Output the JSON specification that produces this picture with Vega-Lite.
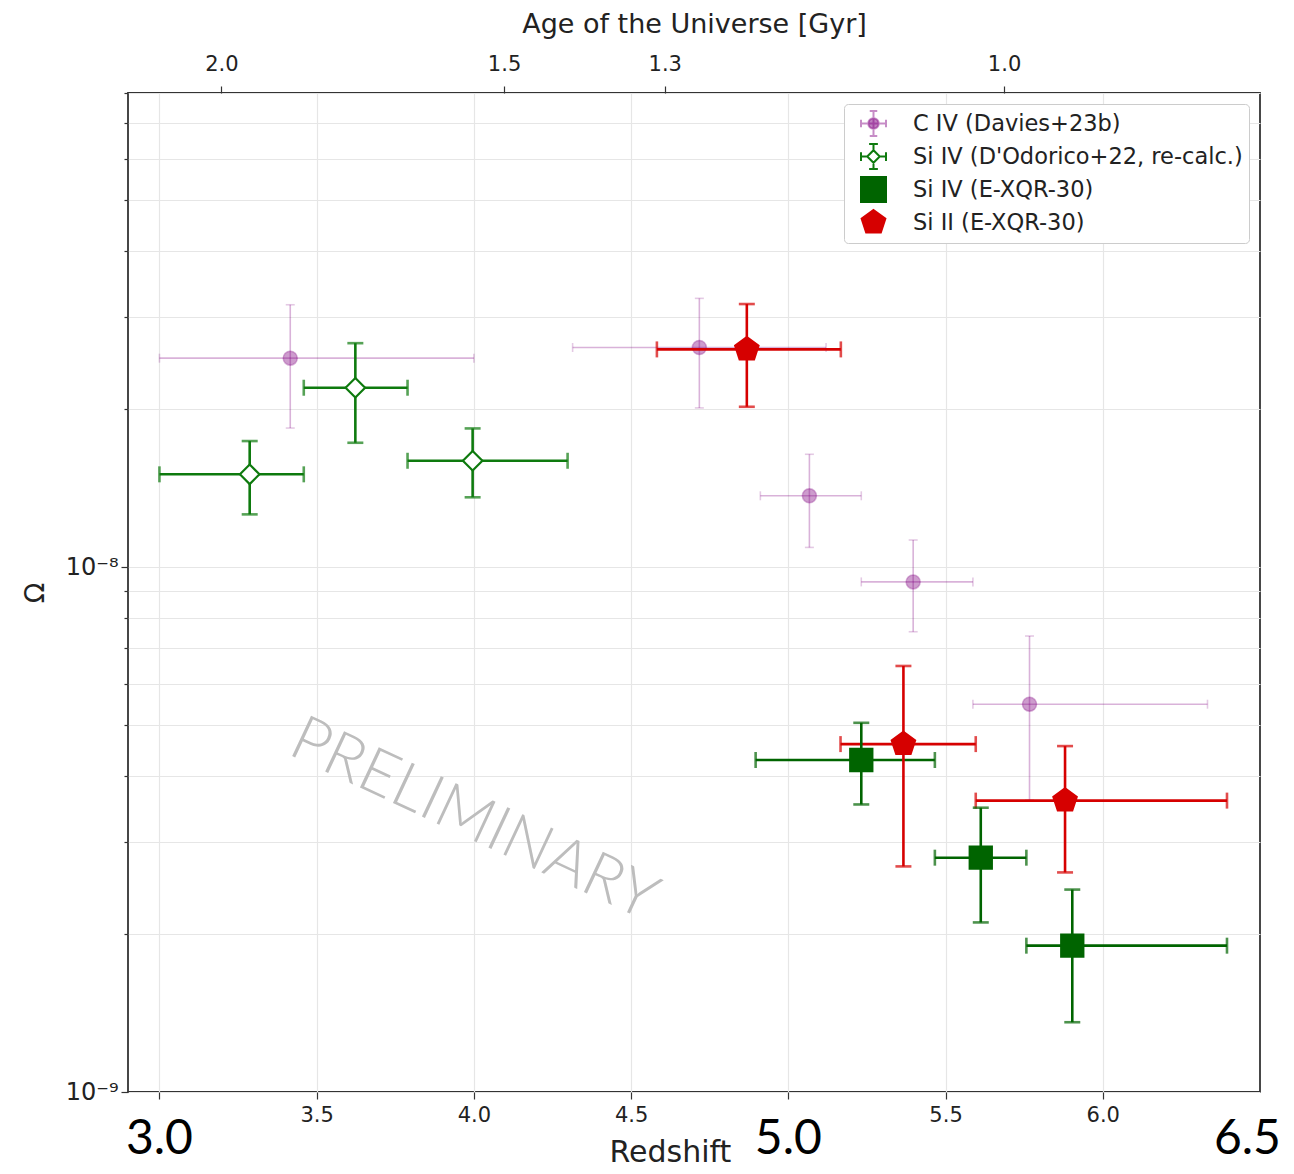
{
  "$schema": "https://vega.github.io/schema/vega-lite/v6.json",
  "autosize": {"type": "none"},
  "width": 1132,
  "height": 999,
  "padding": {"left": 128, "top": 93, "right": 34, "bottom": 82},
  "background": "white",
  "config": {
    "font": "DejaVu Sans",
    "view": {"stroke": "#333333", "strokeWidth": 1.8},
    "axis": {"domain": false, "labelColor": "#222222", "titleColor": "#222222", "tickColor": "#333333", "titleFontWeight": "normal"}
  },
  "datasets": {
    "obs": [
      {"series": "C IV (Davies+23b)", "z": 3.416, "zlo": 3.0, "zhi": 4.0, "om": 2.50e-8, "omlo": 1.84e-8, "omhi": 3.16e-8},
      {"series": "C IV (Davies+23b)", "z": 4.717, "zlo": 4.314, "zhi": 5.12, "om": 2.62e-8, "omlo": 2.01e-8, "omhi": 3.25e-8},
      {"series": "C IV (Davies+23b)", "z": 5.067, "zlo": 4.911, "zhi": 5.232, "om": 1.367e-8, "omlo": 1.09e-8, "omhi": 1.64e-8},
      {"series": "C IV (Davies+23b)", "z": 5.397, "zlo": 5.232, "zhi": 5.587, "om": 9.37e-9, "omlo": 7.53e-9, "omhi": 1.126e-8},
      {"series": "C IV (Davies+23b)", "z": 5.767, "zlo": 5.587, "zhi": 6.333, "om": 5.48e-9, "omlo": 3.6e-9, "omhi": 7.39e-9},
      {"series": "Si IV (D'Odorico+22, re-calc.)", "z": 3.287, "zlo": 3.0, "zhi": 3.459, "om": 1.502e-8, "omlo": 1.26e-8, "omhi": 1.738e-8},
      {"series": "Si IV (D'Odorico+22, re-calc.)", "z": 3.623, "zlo": 3.459, "zhi": 3.789, "om": 2.196e-8, "omlo": 1.725e-8, "omhi": 2.67e-8},
      {"series": "Si IV (D'Odorico+22, re-calc.)", "z": 3.996, "zlo": 3.789, "zhi": 4.298, "om": 1.594e-8, "omlo": 1.358e-8, "omhi": 1.837e-8},
      {"series": "Si IV (E-XQR-30)", "z": 5.232, "zlo": 4.896, "zhi": 5.466, "om": 4.29e-9, "omlo": 3.53e-9, "omhi": 5.05e-9},
      {"series": "Si IV (E-XQR-30)", "z": 5.612, "zlo": 5.466, "zhi": 5.757, "om": 2.795e-9, "omlo": 2.104e-9, "omhi": 3.48e-9},
      {"series": "Si IV (E-XQR-30)", "z": 5.903, "zlo": 5.757, "zhi": 6.395, "om": 1.90e-9, "omlo": 1.358e-9, "omhi": 2.43e-9},
      {"series": "Si II (E-XQR-30)", "z": 4.868, "zlo": 4.582, "zhi": 5.167, "om": 2.598e-8, "omlo": 2.02e-8, "omhi": 3.17e-8},
      {"series": "Si II (E-XQR-30)", "z": 5.366, "zlo": 5.166, "zhi": 5.596, "om": 4.60e-9, "omlo": 2.69e-9, "omhi": 6.48e-9},
      {"series": "Si II (E-XQR-30)", "z": 5.880, "zlo": 5.596, "zhi": 6.395, "om": 3.59e-9, "omlo": 2.62e-9, "omhi": 4.56e-9}
    ],
    "bigticks": [
      {"z": 3.0, "om": 1e-9, "label": "3.0"},
      {"z": 5.0, "om": 1e-9, "label": "5.0"},
      {"z": 6.46, "om": 1e-9, "label": "6.5"}
    ],
    "watermark": [
      {"z": 4.0, "om": 3.3e-9, "label": "PRELIMINARY"}
    ]
  },
  "resolve": {
    "scale": {"color": "independent", "fill": "independent", "stroke": "independent", "shape": "independent", "size": "independent"},
    "axis": {"x": "independent"}
  },
  "layer": [
    {
      "data": {"name": "obs"},
      "transform": [{"filter": "false"}],
      "mark": {"type": "point", "filled": true, "opacity": 1},
      "encoding": {
        "x": {"field": "z", "type": "quantitative", "scale": {"domain": [2.9, 6.5], "nice": false, "zero": false},
          "axis": {"orient": "bottom", "values": [3.0, 3.5, 4.0, 4.5, 5.0, 5.5, 6.0, 6.5],
            "labelExpr": "datum.value == 3 || datum.value == 5 || datum.value == 6.5 ? '' : format(datum.value, '.1f')",
            "labelFontSize": 21, "labelPadding": 5, "tickSize": 7, "tickWidth": 1.2,
            "tickOpacity": {"condition": {"test": "datum.value == 6.5", "value": 0}, "value": 1},
            "grid": true, "gridColor": "#e6e6e6", "gridWidth": 1.2,
            "gridOpacity": {"condition": {"test": "datum.value == 6.5", "value": 0}, "value": 1},
            "title": "Redshift", "titleFontSize": 30, "titleX": 542, "titleY": 60, "titleBaseline": "middle"}},
        "y": {"field": "om", "type": "quantitative", "title": "Ω",
          "scale": {"type": "log", "domain": [1e-9, 8e-8], "nice": false},
          "axis": {"values": [1e-9, 2e-9, 3e-9, 4e-9, 5e-9, 6e-9, 7e-9, 8e-9, 9e-9, 1e-8, 2e-8, 3e-8, 4e-8, 5e-8, 6e-8, 7e-8, 8e-8],
            "labelExpr": "datum.value == 1e-8 ? '10⁻⁸' : (datum.value == 1e-9 ? '10⁻⁹' : '')",
            "labelFontSize": 24, "labelPadding": 3,
            "tickSize": {"condition": {"test": "datum.value == 1e-8 || datum.value == 1e-9", "value": 7}, "value": 4},
            "tickWidth": 1.2,
            "grid": true, "gridColor": "#e6e6e6", "gridWidth": 1.2,
            "title": "Ω", "titleFontSize": 27, "titleX": -93, "titleBaseline": "middle", "titleAngle": -90}},
        "fill": {"field": "series", "type": "nominal", "title": null,
          "scale": {"domain": ["C IV (Davies+23b)", "Si IV (D'Odorico+22, re-calc.)", "Si IV (E-XQR-30)", "Si II (E-XQR-30)"],
            "range": ["rgba(128,0,128,0.5)", "white", "#006400", "#d60000"]},
          "legend": {"orient": "top-right", "offset": 11, "title": null, "labelFontSize": 22.5, "labelColor": "#222222",
            "labelOffset": 26, "symbolOffset": 10, "fillColor": "white", "strokeColor": "#cccccc", "cornerRadius": 4, "padding": 6,
            "rowPadding": 0, "symbolStrokeWidth": 2, "symbolOpacity": 1, "labelLimit": 500}},
        "stroke": {"field": "series", "type": "nominal", "title": null,
          "scale": {"domain": ["C IV (Davies+23b)", "Si IV (D'Odorico+22, re-calc.)", "Si IV (E-XQR-30)", "Si II (E-XQR-30)"],
            "range": ["rgba(128,0,128,0.45)", "#0e7a0e", "#006400", "#d60000"]},
          "legend": {"orient": "top-right", "offset": 11, "title": null}},
        "shape": {"field": "series", "type": "nominal", "title": null,
          "scale": {"domain": ["C IV (Davies+23b)", "Si IV (D'Odorico+22, re-calc.)", "Si IV (E-XQR-30)", "Si II (E-XQR-30)"],
            "range": [
              "M0.42,0A0.42,0.42,0,1,1,-0.42,0A0.42,0.42,0,1,1,0.42,0ZM-1,0L1,0M0,-1L0,1M-1,-0.3L-1,0.3M1,-0.3L1,0.3M-0.3,-1L0.3,-1M-0.3,1L0.3,1",
              "M-0.5,0L0,-0.5L0.5,0L0,0.5ZM-1,0L-0.5,0M0.5,0L1,0M0,-1L0,-0.5M0,0.5L0,1M-1,-0.35L-1,0.35M1,-0.35L1,0.35M-0.35,-1L0.35,-1M-0.35,1L0.35,1",
              "square",
              "M0,-1L0.951,-0.309L0.588,0.809L-0.588,0.809L-0.951,-0.309Z"]},
          "legend": {"orient": "top-right", "offset": 11, "title": null}},
        "size": {"field": "series", "type": "nominal", "title": null,
          "scale": {"domain": ["C IV (Davies+23b)", "Si IV (D'Odorico+22, re-calc.)", "Si IV (E-XQR-30)", "Si II (E-XQR-30)"],
            "range": [625, 625, 676, 784]},
          "legend": {"orient": "top-right", "offset": 11, "title": null}}
      }
    },
    {
      "data": {"name": "obs"},
      "transform": [{"filter": "false"}],
      "mark": {"type": "rule"},
      "encoding": {
        "x": {"field": "z", "type": "quantitative",
          "axis": {"orient": "top", "values": [3.197, 4.096, 4.607, 5.686],
            "labelExpr": "datum.value < 3.5 ? '2.0' : (datum.value < 4.3 ? '1.5' : (datum.value < 5 ? '1.3' : '1.0'))",
            "labelFontSize": 21, "labelPadding": 12, "tickSize": 7, "tickWidth": 1.2, "grid": false,
            "title": "Age of the Universe [Gyr]", "titleFontSize": 27, "titleY": -69, "titleBaseline": "middle"}},
        "y": {"field": "om", "type": "quantitative", "title": "Ω"}
      }
    },
    {
      "data": {"name": "obs"},
      "transform": [{"filter": "datum.series == 'C IV (Davies+23b)'"}],
      "mark": {"type": "errorbar", "thickness": 1.6, "ticks": {"size": 9, "thickness": 1.6}},
      "encoding": {
        "x": {"field": "zlo", "type": "quantitative", "axis": null},
        "x2": {"field": "zhi"},
        "y": {"field": "om", "type": "quantitative", "title": "Ω"},
        "color": {"value": "rgba(128,0,128,0.3)"}
      }
    },
    {
      "data": {"name": "obs"},
      "transform": [{"filter": "datum.series == 'C IV (Davies+23b)'"}],
      "mark": {"type": "errorbar", "thickness": 1.6, "ticks": {"size": 9, "thickness": 1.6}},
      "encoding": {
        "x": {"field": "z", "type": "quantitative", "axis": null},
        "y": {"field": "omlo", "type": "quantitative", "title": "Ω"},
        "y2": {"field": "omhi"},
        "color": {"value": "rgba(128,0,128,0.3)"}
      }
    },
    {
      "data": {"name": "obs"},
      "transform": [{"filter": "datum.series == 'C IV (Davies+23b)'"}],
      "mark": {"type": "point", "shape": "circle", "size": 196, "filled": true, "fill": "rgba(128,0,128,0.55)", "stroke": "rgba(128,0,128,0.45)", "strokeWidth": 1.5},
      "encoding": {
        "x": {"field": "z", "type": "quantitative", "axis": null},
        "y": {"field": "om", "type": "quantitative", "title": "Ω"}
      }
    },
    {
      "data": {"name": "obs"},
      "transform": [{"filter": "datum.series != 'C IV (Davies+23b)'"}],
      "mark": {"type": "errorbar", "thickness": 2.6, "ticks": {"size": 16, "thickness": 2.6}},
      "encoding": {
        "x": {"field": "zlo", "type": "quantitative", "axis": null},
        "x2": {"field": "zhi"},
        "y": {"field": "om", "type": "quantitative", "title": "Ω"},
        "color": {"field": "series", "type": "nominal", "legend": null,
          "scale": {"domain": ["Si IV (D'Odorico+22, re-calc.)", "Si IV (E-XQR-30)", "Si II (E-XQR-30)"],
            "range": ["#0e7a0e", "#006400", "#d60000"]}}
      }
    },
    {
      "data": {"name": "obs"},
      "transform": [{"filter": "datum.series != 'C IV (Davies+23b)'"}],
      "mark": {"type": "errorbar", "thickness": 2.6, "ticks": {"size": 16, "thickness": 2.6}},
      "encoding": {
        "x": {"field": "z", "type": "quantitative", "axis": null},
        "y": {"field": "omlo", "type": "quantitative", "title": "Ω"},
        "y2": {"field": "omhi"},
        "color": {"field": "series", "type": "nominal", "legend": null,
          "scale": {"domain": ["Si IV (D'Odorico+22, re-calc.)", "Si IV (E-XQR-30)", "Si II (E-XQR-30)"],
            "range": ["#0e7a0e", "#006400", "#d60000"]}}
      }
    },
    {
      "data": {"name": "obs"},
      "transform": [{"filter": "datum.series != 'C IV (Davies+23b)'"}],
      "mark": {"type": "point", "filled": true, "strokeWidth": 2.2, "opacity": 1},
      "encoding": {
        "x": {"field": "z", "type": "quantitative", "axis": null},
        "y": {"field": "om", "type": "quantitative", "title": "Ω"},
        "fill": {"field": "series", "type": "nominal", "legend": null,
          "scale": {"domain": ["Si IV (D'Odorico+22, re-calc.)", "Si IV (E-XQR-30)", "Si II (E-XQR-30)"],
            "range": ["white", "#006400", "#d60000"]}},
        "stroke": {"field": "series", "type": "nominal", "legend": null,
          "scale": {"domain": ["Si IV (D'Odorico+22, re-calc.)", "Si IV (E-XQR-30)", "Si II (E-XQR-30)"],
            "range": ["#0e7a0e", "#006400", "#d60000"]}},
        "shape": {"field": "series", "type": "nominal", "legend": null,
          "scale": {"domain": ["Si IV (D'Odorico+22, re-calc.)", "Si IV (E-XQR-30)", "Si II (E-XQR-30)"],
            "range": ["diamond", "square", "M0,-1L0.951,-0.309L0.588,0.809L-0.588,0.809L-0.951,-0.309Z"]}},
        "size": {"field": "series", "type": "nominal", "legend": null,
          "scale": {"domain": ["Si IV (D'Odorico+22, re-calc.)", "Si IV (E-XQR-30)", "Si II (E-XQR-30)"],
            "range": [380, 600, 800]}}
      }
    },
    {
      "data": {"name": "watermark"},
      "mark": {"type": "text", "angle": 25, "fontSize": 63, "font": "Lato", "fontWeight": 300, "fill": "#bdbdbd", "align": "center", "baseline": "middle"},
      "encoding": {
        "x": {"field": "z", "type": "quantitative", "axis": null},
        "y": {"field": "om", "type": "quantitative", "title": "Ω"},
        "text": {"field": "label"}
      }
    },
    {
      "data": {"name": "bigticks"},
      "mark": {"type": "text", "fontSize": 48, "font": "Lato", "fill": "black", "align": "center", "baseline": "middle", "dy": 48},
      "encoding": {
        "x": {"field": "z", "type": "quantitative", "axis": null},
        "y": {"field": "om", "type": "quantitative", "title": "Ω"},
        "text": {"field": "label"}
      }
    }
  ]
}
